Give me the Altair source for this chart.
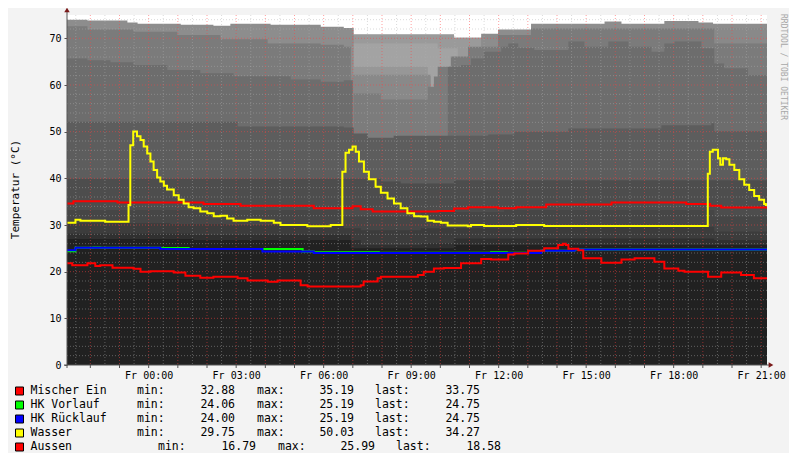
import altair as alt
import pandas as pd

MONO = "DejaVu Sans Mono"

# ---------------- data ----------------
# time in hours relative to Friday 00:00
T_START, T_END = -2.8, 21.2
Y_MAX = 75
x_ticks = [0, 3, 6, 9, 12, 15, 18, 21]
y_ticks = [0, 10, 20, 30, 40, 50, 60, 70]

mischer_t = [-2.80, -2.58, -1.07, 1.88, 3.15, 5.66, 6.99, 7.27, 7.68, 9.91, 10.47, 10.95,
             11.98, 12.60, 13.63, 15.87, 18.43, 19.25, 19.63, 21.20]
mischer_v = [34.6, 35.1, 34.8, 34.5, 34.1, 33.6, 34.0, 33.4, 32.9, 33.0, 33.55, 33.8,
             33.6, 33.8, 34.4, 34.8, 34.5, 34.1, 33.75, 33.75]

vorlauf_t = [-2.80, -2.51, -1.90, -1.66, 0.40, 1.37, 5.28, 5.66, 7.89, 11.74, 12.28,
             13.46, 14.60, 21.20]
vorlauf_v = [24.4, 25.1, 25.19, 25.1, 25.05, 24.85, 24.3, 24.15, 24.06, 24.15, 24.06,
             24.5, 24.75, 24.75]

ruecklauf_t = [-2.80, -2.51, 0.40, 3.90, 5.66, 13.46, 14.60, 21.20]
ruecklauf_v = [24.6, 25.1, 24.85, 24.3, 24.0, 24.5, 24.75, 24.75]

wasser_t = [-2.80, -2.51, -2.34, -1.49, -0.69, -0.63, -0.53, -0.40, -0.28, -0.17, -0.05,
            0.06, 0.17, 0.29, 0.40, 0.52, 0.63, 0.86, 1.03, 1.20, 1.37, 1.54, 1.77, 2.01,
            2.23, 2.46, 2.69, 2.91, 3.38, 3.84, 4.29, 4.52, 5.44, 6.24, 6.64, 6.75, 6.87,
            6.99, 7.10, 7.21, 7.38, 7.55, 7.78, 7.96, 8.19, 8.41, 8.64, 8.87, 9.10, 9.33,
            9.56, 9.78, 10.02, 10.25, 10.94, 11.05, 11.50, 12.60, 13.56, 19.17, 19.24,
            19.34, 19.52, 19.60, 19.69, 19.80, 19.91, 20.08, 20.25, 20.42, 20.59, 20.76,
            20.93, 21.10, 21.16, 21.20]
wasser_v = [30.5, 31.1, 30.9, 30.7, 34.3, 47.1, 50.03, 49.0, 48.2, 46.8, 45.3,
            43.6, 41.8, 40.2, 39.3, 38.4, 37.6, 36.4, 35.4, 34.6, 33.8, 33.6, 32.9, 32.5,
            31.9, 32.0, 31.4, 30.9, 31.1, 30.9, 30.5, 30.0, 29.75, 30.0, 41.4, 45.5, 46.1,
            46.8, 45.7, 43.6, 41.4, 39.8, 38.2, 36.9, 35.7, 34.6, 33.6, 32.5, 31.9, 31.8,
            30.9, 30.7, 30.5, 29.9, 29.75, 30.0, 29.8, 30.0, 29.8, 41.0, 45.7,
            46.1, 44.3, 42.9, 44.3, 44.1, 42.9, 41.8, 39.8, 38.6, 37.5, 36.2,
            35.4, 34.5, 34.27, 34.27]

aussen_t = [-2.80, -2.62, -2.10, -1.83, -1.66, -1.24, -0.52, -0.28, 0.06, 0.86, 1.26,
            1.77, 2.22, 3.05, 3.39, 4.08, 4.42, 5.21, 5.45, 7.27, 7.37, 7.85, 7.96, 9.23,
            9.43, 9.78, 10.12, 10.71, 11.40, 11.74, 12.33, 12.54, 13.01, 13.56, 14.04,
            14.20, 14.30, 14.39, 14.73, 14.90, 15.52, 16.21, 16.66, 17.34, 17.68, 18.16,
            18.37, 19.18, 19.63, 20.31, 20.75, 21.20]
aussen_v = [21.8, 21.4, 21.8, 21.2, 21.4, 20.85, 20.6, 20.0, 20.1, 19.8, 19.1,
            18.7, 18.9, 18.6, 18.1, 17.85, 18.1, 17.1, 16.8, 17.1, 17.9, 18.6, 18.9, 19.3,
            20.0, 20.7, 20.8, 21.8, 22.7, 22.6, 23.7, 23.9, 24.5, 25.0, 25.7,
            25.99, 25.7, 24.9, 24.6, 22.85, 21.9, 22.6, 22.85, 22.1, 20.7, 20.2,
            20.0, 18.9, 19.8, 19.3, 18.58, 18.58]

# background bands (drawn in this order, each filled from 0 up to its top)
band_names = ["E1", "D0", "D1", "D2", "D3", "T3", "D4", "T4", "T5", "T6", "T7", "T8",
              "T9", "BASE"]
band_t = {
    "E1": [-2.80, -2.10, -0.73, -0.38, 1.10, 2.22, 2.80, 4.18, 5.90, 6.69, 7.03, 10.47,
           11.40, 11.98, 13.11, 15.63, 16.21, 17.68, 18.85, 19.35, 21.20],
    "D0": [-2.80, 7.03, 10.47, 11.40, 21.20],
    "D1": [-2.80, 7.03, 9.91, 10.60, 21.20],
    "D2": [-2.80, 7.03, 9.57, 21.20],
    "D3": [-2.80, 6.93, 9.67, 19.39, 21.20],
    "T3": [-2.80, -2.10, -0.52, 0.98, 2.46, 4.08, 5.90, 6.69, 6.93, 9.91, 10.36, 10.95,
           11.98, 13.11, 19.39, 21.20],
    "D4": [-2.80, 7.03, 7.96, 9.57, 9.78, 10.26, 21.20],
    "T4": [-2.80, -2.10, -1.31, -0.52, 0.64, 1.77, 2.91, 4.87, 5.90, 6.69, 7.00, 10.26,
           10.71, 11.05, 11.50, 12.09, 12.33, 12.67, 13.22, 14.39, 14.94, 15.76, 16.45,
           17.24, 17.68, 18.03, 18.95, 19.39, 19.73, 20.55, 21.20],
    "T5": [-2.80, 3.05, 6.69, 7.03, 7.51, 8.40, 11.64, 12.54, 14.39, 17.58, 19.29, 19.39,
           21.20],
    "T6": [-2.80, 7.96, 8.64, 10.47, 21.20],
    "T7": [-2.80, 6.69, 9.33, 12.19, 19.39, 21.20],
    "T8": [-2.80, 0.74, 2.70, 6.69, 7.27, 9.33, 12.54, 19.39, 21.20],
    "T9": [-2.80, 1.54, 6.93, 7.27, 9.33, 10.47, 19.39, 21.20],
    "BASE": [-2.80, 1.54, 6.93, 10.47, 21.20],
}
band_v = {
    "E1": [74.0, 73.8, 73.4, 73.1, 72.9, 72.7, 73.1, 72.9, 72.5, 72.2, 70.8, 70.1,
           71.0, 71.9, 73.1, 73.6, 73.1, 73.7, 73.4, 73.1, 73.1],
    "D0": [50, 70.8, 70.1, 50, 50],
    "D1": [50, 68.9, 67.9, 50, 50],
    "D2": [50, 63.9, 50, 50],
    "D3": [50, 62.2, 50, 72.2, 72.2],
    "T3": [72.6, 71.9, 71.4, 70.7, 69.8, 68.9, 68.6, 68.2, 45, 63.9, 66.1, 68.2,
           70.7, 72.1, 68.9, 68.9],
    "D4": [40, 58.2, 56.9, 59.6, 61.8, 40, 40],
    "T4": [65.7, 65.3, 64.9, 64.3, 63.2, 62.5, 61.9, 61.2, 60.7, 61.0, 45, 63.9,
           64.3, 65.7, 67.1, 68.2, 68.9, 68.0, 67.5, 69.3, 68.2, 69.3, 68.2,
           67.1, 68.9, 69.3, 67.9, 64.6, 63.6, 62.1, 62.1],
    "T5": [52.1, 51.1, 50.9, 49.6, 48.7, 49.1, 49.4, 50.0, 50.7, 51.4, 51.8, 50.1, 50.1],
    "T6": [39.9, 39.3, 38.9, 39.6, 39.6],
    "T7": [33.2, 31.8, 32.8, 33.2, 31.8, 31.8],
    "T8": [30.4, 30.2, 30.0, 29.3, 28.9, 29.3, 29.6, 28.6, 28.6],
    "T9": [28.2, 27.9, 26.8, 25.7, 26.1, 27.1, 26.8, 26.8],
    "BASE": [27.0, 26.8, 25.0, 25.7, 25.7],
}
band_colors = {
    "E1": "#8d8d8d", "D0": "#9a9a9a", "D1": "#a3a3a3", "D2": "#979797", "D3": "#898989",
    "T3": "#7b7b7b", "D4": "#7c7c7c", "T4": "#6d6d6d", "T5": "#5d5d5d", "T6": "#4d4d4d",
    "T7": "#464646", "T8": "#3c3c3c", "T9": "#303030", "BASE": "#212121",
}

legend_names = ["Mischer Ein", "HK Vorlauf", "HK Rücklauf", "Wasser", "Aussen"]
legend_colors = ["#ff0000", "#00ff00", "#0000ff", "#ffff00", "#ff0000"]
legend_min = [32.88, 24.06, 24.00, 29.75, 16.79]
legend_max = [35.19, 25.19, 25.19, 50.03, 25.99]
legend_last = [33.75, 24.75, 24.75, 34.27, 18.58]

series = [
    (mischer_t, mischer_v, "#ff0000"),
    (vorlauf_t, vorlauf_v, "#00ff00"),
    (ruecklauf_t, ruecklauf_v, "#0000ff"),
    (wasser_t, wasser_v, "#ffff00"),
    (aussen_t, aussen_v, "#ff0000"),
]

# ---------------- chart ----------------
W, H = 700, 350
xs = alt.Scale(domain=[T_START, T_END], nice=False, zero=False)
ys = alt.Scale(domain=[0, Y_MAX], nice=False, zero=True)

x_axis = alt.Axis(values=x_ticks,
                  labelExpr="'Fr ' + (datum.value < 10 ? '0' : '') + datum.value + ':00'",
                  grid=False, domain=False, ticks=False, tickSize=0, labelPadding=5,
                  labelFont=MONO, labelFontSize=10, labelColor="#000000",
                  labelFlush=False, labelOverlap=False, title=None)
y_axis = alt.Axis(values=y_ticks, grid=False, domain=False, ticks=True, tickSize=3,
                  tickColor="#555555", labelPadding=3, labelFont=MONO, labelFontSize=10,
                  labelColor="#000000", title="Temperatur (°C)", titleFont=MONO,
                  titleFontSize=11, titleFontWeight="normal", titleColor="#000000",
                  titleX=-52, titleY=174, titleAlign="center", titleBaseline="middle")


def X():
    return alt.X("t:Q", scale=xs, axis=x_axis)


def Y():
    return alt.Y("v:Q", scale=ys, axis=y_axis)


layers = []
for name in band_names:
    df = pd.DataFrame({"t": band_t[name], "v": band_v[name]})
    layers.append(alt.Chart(df).mark_area(interpolate="step-after", color=band_colors[name],
                                          opacity=1).encode(x=X(), y=Y()))

# grid
minor_x = [h + 0.5 for h in range(-3, 21)]
major_x = list(range(-2, 22))
minor_y = [v for v in range(2, 75, 2) if v % 10 != 0]
major_y = [v for v in range(10, 75, 10)]
layers.append(alt.Chart(pd.DataFrame({"t": minor_x})).mark_rule(
    color="#b0b0b0", opacity=0.45, strokeWidth=1, strokeDash=[1, 2]).encode(x=X()))
layers.append(alt.Chart(pd.DataFrame({"v": minor_y})).mark_rule(
    color="#b0b0b0", opacity=0.45, strokeWidth=1, strokeDash=[1, 2]).encode(y=Y()))
layers.append(alt.Chart(pd.DataFrame({"t": major_x})).mark_rule(
    color="#ff4040", opacity=0.5, strokeWidth=1, strokeDash=[1, 2]).encode(x=X()))
layers.append(alt.Chart(pd.DataFrame({"v": major_y})).mark_rule(
    color="#ff4040", opacity=0.5, strokeWidth=1, strokeDash=[1, 2]).encode(y=Y()))

# data lines
for t, v, c in series:
    df = pd.DataFrame({"t": t, "v": v})
    layers.append(alt.Chart(df).mark_line(interpolate="step-after", color=c,
                                          strokeWidth=2).encode(x=X(), y=Y()))

one = pd.DataFrame({"a": [0]})
# axis lines, ticks and arrows
layers.append(alt.Chart(pd.DataFrame({"t": major_x})).mark_rule(
    color="#555555", strokeWidth=1).encode(x=X(), y=alt.value(H), y2=alt.value(H + 3)))
layers.append(alt.Chart(one).mark_rule(color="#555555", strokeWidth=1).encode(
    x=alt.value(0), y=alt.value(H + 3), y2=alt.value(-4)))
layers.append(alt.Chart(one).mark_rule(color="#555555", strokeWidth=1).encode(
    x=alt.value(-3), x2=alt.value(W + 3), y=alt.value(H)))
layers.append(alt.Chart(one).mark_point(shape="triangle-up", filled=True, size=30,
                                        color="#7a1a1a", opacity=1).encode(
    x=alt.value(0), y=alt.value(-5)))
layers.append(alt.Chart(one).mark_point(shape="triangle-right", filled=True, size=30,
                                        color="#7a1a1a", opacity=1).encode(
    x=alt.value(W + 4), y=alt.value(H)))

# watermark
layers.append(alt.Chart(one).mark_text(text="RRDTOOL / TOBI OETIKER", font=MONO,
                                       fontSize=8, color="#a8a8a8", angle=90,
                                       align="center", baseline="middle").encode(
    x=alt.value(716), y=alt.value(52)))

# legend
row_y = [376, 390, 404, 418, 432]
row_shift = [0, 0, 0, 0, 21]
for i, name in enumerate(legend_names):
    y = row_y[i]
    s = row_shift[i]
    layers.append(alt.Chart(one).mark_square(size=64, filled=True, fill=legend_colors[i],
                                             stroke="#000000", strokeWidth=1,
                                             opacity=1).encode(
        x=alt.value(-47.5), y=alt.value(y)))
    tokens = [
        (name, -36.5, "left"),
        ("min:", 70 + s, "left"),
        (f"{legend_min[i]:.2f}", 168 + s, "right"),
        ("max:", 190 + s, "left"),
        (f"{legend_max[i]:.2f}", 287 + s, "right"),
        ("last:", 308 + s, "left"),
        (f"{legend_last[i]:.2f}", 413 + s, "right"),
    ]
    for txt, x, al in tokens:
        layers.append(alt.Chart(one).mark_text(text=txt, font=MONO, fontSize=11.5,
                                               color="#000000", align=al,
                                               baseline="middle").encode(
            x=alt.value(x), y=alt.value(y)))

chart = alt.layer(*layers).properties(
    width=W, height=H,
    autosize=alt.AutoSizeParams(type="none"),
    padding={"left": 59, "top": 7, "right": 22, "bottom": 88},
    background="#f3f3f3",
).configure_view(stroke=None, fill="#ffffff")

chart.save("out.html", embed_options={"renderer": "svg", "actions": False})
